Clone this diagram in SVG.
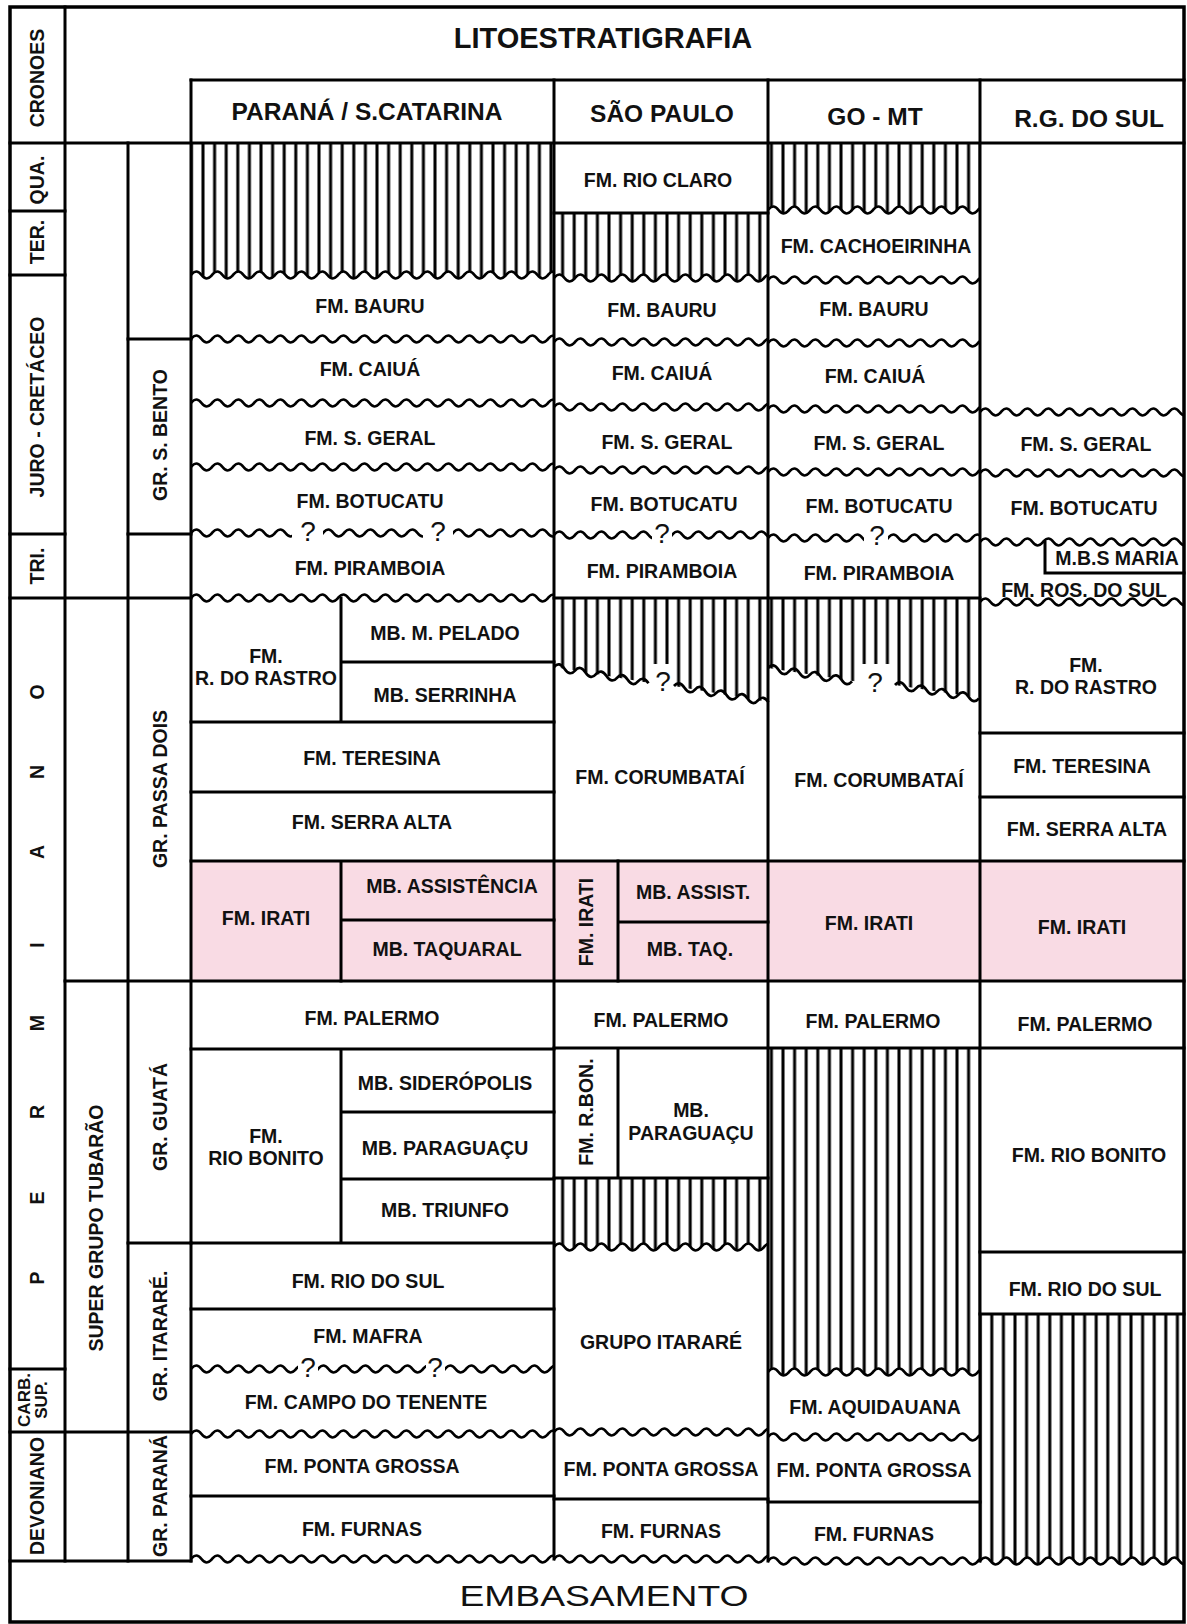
<svg xmlns="http://www.w3.org/2000/svg" width="1187" height="1624" viewBox="0 0 1187 1624">
<style>
.t{font-family:"Liberation Sans",Arial,sans-serif;font-weight:bold;font-size:19.5px;fill:#111;text-anchor:middle}
.h{font-family:"Liberation Sans",Arial,sans-serif;font-weight:bold;font-size:24.5px;fill:#111;text-anchor:middle}
.q{font-family:"Liberation Sans",Arial,sans-serif;font-size:28px;fill:#111;text-anchor:middle}
.ln{stroke:#000;stroke-width:3;fill:none;stroke-linecap:square}
.pk{fill:#f9dbe4}
.ht{fill:url(#hatch)}
.wv{fill:url(#wv)}
.wh{fill:url(#wvh)}
.sw{fill:none;stroke:#000;stroke-width:2.7}
</style>
<defs>
<pattern id="hatch" patternUnits="userSpaceOnUse" width="11.6" height="20">
<rect width="11.6" height="20" fill="#fff"/>
<line x1="5.8" y1="-1" x2="5.8" y2="21" stroke="#000" stroke-width="3"/>
</pattern>
<pattern id="wv" patternUnits="userSpaceOnUse" width="21" height="14">
<path d="M-10.5,7q5.25,7 10.5,0t10.5,0t10.5,0t10.5,0" fill="none" stroke="#000" stroke-width="2.7"/>
</pattern>
<pattern id="wvh" patternUnits="userSpaceOnUse" width="21" height="14">
<path d="M-10.5,7q5.25,7 10.5,0t10.5,0t10.5,0t10.5,0V14H-10.5Z" fill="#fff"/>
<path d="M-10.5,7q5.25,7 10.5,0t10.5,0t10.5,0t10.5,0" fill="none" stroke="#000" stroke-width="2.7"/>
</pattern>
</defs>
<rect x="0" y="0" width="1187" height="1624" fill="#fff"/>

<g id="fills">
<rect class="pk" x="191" y="861" width="993" height="120"/>
<rect class="ht" x="191" y="143" width="363" height="136"/>
<rect class="ht" x="554" y="213" width="214" height="69"/>
<rect class="ht" x="768" y="143" width="212" height="71"/>
<polygon class="ht" points="554,598 768,598 768,702 674,686 650,683 554,667"/>
<polygon class="ht" points="768,598 980,598 980,698 895,685 853,681 768,668"/>
<rect class="ht" x="554" y="1178" width="214" height="73"/>
<rect class="ht" x="768" y="1048" width="212" height="328"/>
<rect class="ht" x="980" y="1314" width="204" height="251"/>
<rect x="651" y="664" width="22" height="30" fill="#fff"/>
<rect x="856" y="664" width="36" height="30" fill="#fff"/>
</g>

<g id="waves">
<rect class="wh" width="363" height="14" transform="translate(191,268)"/>
<rect class="wv" width="363" height="14" transform="translate(191,332)"/>
<rect class="wv" width="363" height="14" transform="translate(191,396)"/>
<rect class="wv" width="363" height="14" transform="translate(191,460)"/>
<rect class="wv" width="101" height="14" transform="translate(191,526)"/>
<rect class="wv" width="100" height="14" transform="translate(323,526)"/>
<rect class="wv" width="101" height="14" transform="translate(453,526)"/>
<rect class="wv" width="363" height="14" transform="translate(191,591)"/>
<rect class="wv" width="107" height="14" transform="translate(191,1362)"/>
<rect class="wv" width="108" height="14" transform="translate(318,1362)"/>
<rect class="wv" width="109" height="14" transform="translate(445,1362)"/>
<rect class="wv" width="363" height="14" transform="translate(191,1427)"/>
<rect class="wv" width="363" height="14" transform="translate(191,1552)"/>

<rect class="wh" width="214" height="14" transform="translate(554,271)"/>
<rect class="wv" width="214" height="14" transform="translate(554,335)"/>
<rect class="wv" width="214" height="14" transform="translate(554,400)"/>
<rect class="wv" width="214" height="14" transform="translate(554,463)"/>
<rect class="wv" width="98" height="14" transform="translate(554,528)"/>
<rect class="wv" width="96" height="14" transform="translate(672,528)"/>
<rect class="wh" width="214" height="14" transform="translate(554,1240)"/>
<rect class="wv" width="214" height="14" transform="translate(554,1425)"/>
<rect class="wv" width="214" height="14" transform="translate(554,1552)"/>

<rect class="wh" width="212" height="14" transform="translate(768,203)"/>
<rect class="wv" width="212" height="14" transform="translate(768,273)"/>
<rect class="wv" width="212" height="14" transform="translate(768,336)"/>
<rect class="wv" width="212" height="14" transform="translate(768,402)"/>
<rect class="wv" width="212" height="14" transform="translate(768,465)"/>
<rect class="wv" width="96" height="14" transform="translate(768,531)"/>
<rect class="wv" width="92" height="14" transform="translate(888,531)"/>
<rect class="wh" width="212" height="14" transform="translate(768,1365)"/>
<rect class="wv" width="212" height="14" transform="translate(768,1430)"/>
<rect class="wv" width="212" height="14" transform="translate(768,1554)"/>

<rect class="wv" width="204" height="14" transform="translate(980,405)"/>
<rect class="wv" width="204" height="14" transform="translate(980,466)"/>
<rect class="wv" width="204" height="14" transform="translate(980,535)"/>
<rect class="wv" width="204" height="14" transform="translate(980,595)"/>
<rect class="wh" width="204" height="14" transform="translate(980,1554)"/>

<path class="sw" d="M554,667q5.25,-6.1 10.5,1.8t10.5,1.8t10.5,1.8t10.5,1.8t10.5,1.8t10.5,1.8t10.5,1.8t10.5,1.8t10.5,1.8"/>
<path class="sw" d="M674,686q5.25,-6.1 10.5,1.8t10.5,1.8t10.5,1.8t10.5,1.8t10.5,1.8t10.5,1.8t10.5,1.8t10.5,1.8t10.5,1.8"/>
<path class="sw" d="M768,668q5.25,-6.16 10.5,1.68t10.5,1.68t10.5,1.68t10.5,1.68t10.5,1.68t10.5,1.68t10.5,1.68t10.5,1.68"/>
<path class="sw" d="M895,685q5.25,-6.16 10.5,1.68t10.5,1.68t10.5,1.68t10.5,1.68t10.5,1.68t10.5,1.68t10.5,1.68t10.5,1.68"/>
</g>

<g id="grid">
<rect x="10" y="7" width="1174" height="1615" fill="none" stroke="#000" stroke-width="3.5"/>
<path class="ln" d="M65,7V1561M128,143V1561M191,80V1561M554,80V1559M768,80V1561M980,80V1561"/>
<path class="ln" d="M10,143H1184M191,80H1184M10,211H65M10,275H65M10,534H65M10,598H191M10,1369H65M10,1432H191M10,1561H191M128,339H191M128,534H191M65,981H1184M128,1243H191"/>
<path class="ln" d="M341,598V722M341,662H554M191,722H554M191,792H554M191,861H1184M341,861V981M341,920H554M191,1049H554M341,1049V1243M341,1112H554M341,1179H554M191,1243H554M191,1309H554M191,1496H554"/>
<path class="ln" d="M554,213H768M554,598H980M618,861V981M618,922H768M554,1048H1184M618,1048V1178M554,1178H768M554,1499H768M768,1502H980"/>
<path class="ln" d="M1045,542V573H1184M980,733H1184M980,797H1184M980,1252H1184M980,1314H1184"/>
</g>

<g id="header">
<text class="h" x="603" y="48" style="font-size:29px">LITOESTRATIGRAFIA</text>
<text class="h" x="367" y="120">PARANÁ / S.CATARINA</text>
<text class="h" x="662" y="122">SÃO PAULO</text>
<text class="h" x="875" y="125">GO - MT</text>
<text class="h" x="1089" y="127">R.G. DO SUL</text>
</g>

<g id="chrono">
<text class="t" transform="translate(44,78) rotate(-90)">CRONOES</text>
<text class="t" transform="translate(44,180) rotate(-90)">QUA.</text>
<text class="t" transform="translate(44,242) rotate(-90)">TER.</text>
<text class="t" transform="translate(44,407) rotate(-90)">JURO - CRETÁCEO</text>
<text class="t" transform="translate(44,566) rotate(-90)">TRI.</text>
<text class="t" transform="translate(44,1278) rotate(-90)">P</text>
<text class="t" transform="translate(44,1198) rotate(-90)">E</text>
<text class="t" transform="translate(44,1112) rotate(-90)">R</text>
<text class="t" transform="translate(44,1023) rotate(-90)">M</text>
<text class="t" transform="translate(44,945) rotate(-90)">I</text>
<text class="t" transform="translate(44,852) rotate(-90)">A</text>
<text class="t" transform="translate(44,772) rotate(-90)">N</text>
<text class="t" transform="translate(44,692) rotate(-90)">O</text>
<text class="t" style="font-size:17px" transform="translate(30,1400) rotate(-90)">CARB.</text>
<text class="t" style="font-size:17px" transform="translate(47,1400) rotate(-90)">SUP.</text>
<text class="t" transform="translate(44,1496) rotate(-90)">DEVONIANO</text>
</g>

<g id="groups">
<text class="t" transform="translate(103,1228) rotate(-90)">SUPER GRUPO TUBARÃO</text>
<text class="t" transform="translate(167,435) rotate(-90)">GR. S. BENTO</text>
<text class="t" transform="translate(167,789) rotate(-90)">GR. PASSA DOIS</text>
<text class="t" transform="translate(167,1117) rotate(-90)">GR. GUATÁ</text>
<text class="t" transform="translate(167,1336) rotate(-90)">GR. ITARARÉ.</text>
<text class="t" transform="translate(167,1496) rotate(-90)">GR. PARANÁ</text>
</g>

<g id="col-parana">
<text class="t" x="370" y="313">FM. BAURU</text>
<text class="t" x="370" y="376">FM. CAIUÁ</text>
<text class="t" x="370" y="445">FM. S. GERAL</text>
<text class="t" x="370" y="508">FM. BOTUCATU</text>
<text class="q" x="308" y="541">?</text>
<text class="q" x="438" y="541">?</text>
<text class="t" x="370" y="575">FM. PIRAMBOIA</text>
<text class="t" x="266" y="663">FM.</text>
<text class="t" x="266" y="685">R. DO RASTRO</text>
<text class="t" x="445" y="640">MB. M. PELADO</text>
<text class="t" x="445" y="702">MB. SERRINHA</text>
<text class="t" x="372" y="765">FM. TERESINA</text>
<text class="t" x="372" y="829">FM. SERRA ALTA</text>
<text class="t" x="266" y="925">FM. IRATI</text>
<text class="t" x="452" y="893">MB. ASSISTÊNCIA</text>
<text class="t" x="447" y="956">MB. TAQUARAL</text>
<text class="t" x="372" y="1025">FM. PALERMO</text>
<text class="t" x="266" y="1143">FM.</text>
<text class="t" x="266" y="1165">RIO BONITO</text>
<text class="t" x="445" y="1090">MB. SIDERÓPOLIS</text>
<text class="t" x="445" y="1155">MB. PARAGUAÇU</text>
<text class="t" x="445" y="1217">MB. TRIUNFO</text>
<text class="t" x="368" y="1288">FM. RIO DO SUL</text>
<text class="t" x="368" y="1343">FM. MAFRA</text>
<text class="q" x="308" y="1377">?</text>
<text class="q" x="435" y="1377">?</text>
<text class="t" x="366" y="1409">FM. CAMPO DO TENENTE</text>
<text class="t" x="362" y="1473">FM. PONTA GROSSA</text>
<text class="t" x="362" y="1536">FM. FURNAS</text>
</g>

<g id="col-sp">
<text class="t" x="658" y="187">FM. RIO CLARO</text>
<text class="t" x="662" y="317">FM. BAURU</text>
<text class="t" x="662" y="380">FM. CAIUÁ</text>
<text class="t" x="667" y="449">FM. S. GERAL</text>
<text class="t" x="664" y="511">FM. BOTUCATU</text>
<text class="q" x="662" y="543">?</text>
<text class="t" x="662" y="578">FM. PIRAMBOIA</text>
<text class="q" x="663" y="691">?</text>
<text class="t" x="660" y="784">FM. CORUMBATAÍ</text>
<text class="t" transform="translate(593,922) rotate(-90)">FM. IRATI</text>
<text class="t" x="693" y="899">MB. ASSIST.</text>
<text class="t" x="690" y="956">MB. TAQ.</text>
<text class="t" x="661" y="1027">FM. PALERMO</text>
<text class="t" transform="translate(593,1112) rotate(-90)">FM. R.BON.</text>
<text class="t" x="691" y="1117">MB.</text>
<text class="t" x="691" y="1140">PARAGUAÇU</text>
<text class="t" x="661" y="1349">GRUPO ITARARÉ</text>
<text class="t" x="661" y="1476">FM. PONTA GROSSA</text>
<text class="t" x="661" y="1538">FM. FURNAS</text>
</g>

<g id="col-gomt">
<text class="t" x="876" y="253">FM. CACHOEIRINHA</text>
<text class="t" x="874" y="316">FM. BAURU</text>
<text class="t" x="875" y="383">FM. CAIUÁ</text>
<text class="t" x="879" y="450">FM. S. GERAL</text>
<text class="t" x="879" y="513">FM. BOTUCATU</text>
<text class="q" x="877" y="545">?</text>
<text class="t" x="879" y="580">FM. PIRAMBOIA</text>
<text class="q" x="875" y="692">?</text>
<text class="t" x="879" y="787">FM. CORUMBATAÍ</text>
<text class="t" x="869" y="930">FM. IRATI</text>
<text class="t" x="873" y="1028">FM. PALERMO</text>
<text class="t" x="875" y="1414">FM. AQUIDAUANA</text>
<text class="t" x="874" y="1477">FM. PONTA GROSSA</text>
<text class="t" x="874" y="1541">FM. FURNAS</text>
</g>

<g id="col-rgs">
<text class="t" x="1086" y="451">FM. S. GERAL</text>
<text class="t" x="1084" y="515">FM. BOTUCATU</text>
<text class="t" x="1117" y="565">M.B.S MARIA</text>
<text class="t" x="1084" y="597">FM. ROS. DO SUL</text>
<text class="t" x="1086" y="672">FM.</text>
<text class="t" x="1086" y="694">R. DO RASTRO</text>
<text class="t" x="1082" y="773">FM. TERESINA</text>
<text class="t" x="1087" y="836">FM. SERRA ALTA</text>
<text class="t" x="1082" y="934">FM. IRATI</text>
<text class="t" x="1085" y="1031">FM. PALERMO</text>
<text class="t" x="1089" y="1162">FM. RIO BONITO</text>
<text class="t" x="1085" y="1296">FM. RIO DO SUL</text>
</g>

<g id="base">
<text x="604" y="1606" textLength="289" lengthAdjust="spacingAndGlyphs" style="font-family:'Liberation Sans',Arial,sans-serif;font-size:30px;fill:#111;text-anchor:middle">EMBASAMENTO</text>
</g>
</svg>
